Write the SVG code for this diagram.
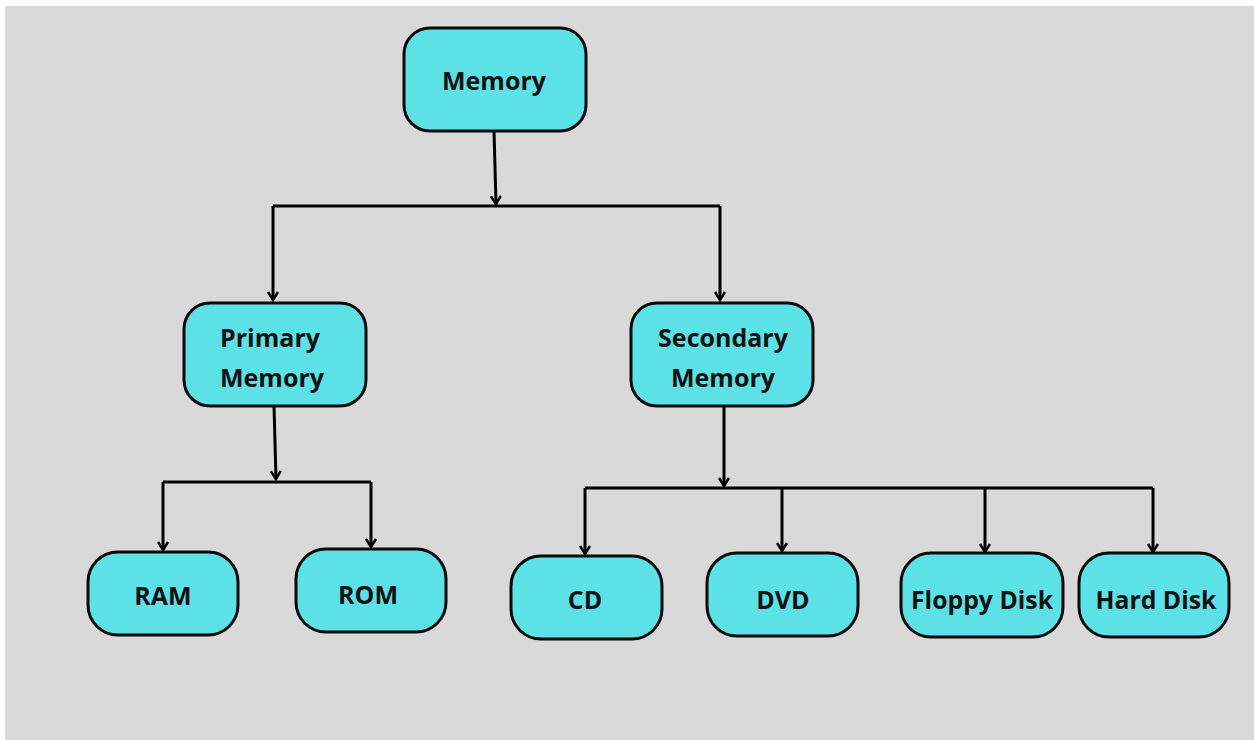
<svg xmlns="http://www.w3.org/2000/svg" width="1254" height="740" viewBox="0 0 1254 740">
<defs>
<marker id="arr" markerWidth="12" markerHeight="12" viewBox="0 0 12 12" refX="10" refY="6" orient="auto" markerUnits="userSpaceOnUse">
<path d="M2,1 L10,6 L2,11" fill="none" stroke="#000" stroke-width="2.5" stroke-linejoin="miter"/>
</marker>
</defs>
<style>
.box{fill:#5ce1e6;stroke:#0a0a0a;stroke-width:3}
.t{font-family:"Open Sans","Noto Sans",sans-serif;font-weight:bold;font-size:25px;fill:#111;text-anchor:middle}
.c{fill:none;stroke:#000;stroke-width:3}
</style>
<rect x="0" y="0" width="1254" height="740" fill="#ffffff"/>
<rect x="5" y="6" width="1249" height="734" fill="#d9d9d9"/>
<g id="connectors">
<path class="c" d="M494,131 L496,204" marker-end="url(#arr)"/>
<path class="c" d="M273,206 L720,206"/>
<path class="c" d="M273,206 L273,300" marker-end="url(#arr)"/>
<path class="c" d="M720,206 L720,300" marker-end="url(#arr)"/>
<path class="c" d="M274,406 L276,479" marker-end="url(#arr)"/>
<path class="c" d="M163,482 L371,482"/>
<path class="c" d="M163,482 L163,550" marker-end="url(#arr)"/>
<path class="c" d="M371,482 L371,547" marker-end="url(#arr)"/>
<path class="c" d="M724,406 L724,486" marker-end="url(#arr)"/>
<path class="c" d="M585,488 L1153,488"/>
<path class="c" d="M585,488 L585,554" marker-end="url(#arr)"/>
<path class="c" d="M782,488 L782,551" marker-end="url(#arr)"/>
<path class="c" d="M985,488 L985,552" marker-end="url(#arr)"/>
<path class="c" d="M1153,488 L1153,552" marker-end="url(#arr)"/>
</g>
<g id="memory">
<rect class="box" x="404" y="28" width="182" height="103" rx="26"/>
<text class="t" x="494" y="90">Memory</text>
</g>
<g id="primary">
<rect class="box" x="184" y="303" width="182" height="103" rx="26"/>
<text class="t" x="270" y="347">Primary</text>
<text class="t" x="272" y="387">Memory</text>
</g>
<g id="secondary">
<rect class="box" x="631" y="303" width="182" height="103" rx="26"/>
<text class="t" x="723" y="347">Secondary</text>
<text class="t" x="723" y="387">Memory</text>
</g>
<g id="ram">
<rect class="box" x="88" y="552" width="150" height="83" rx="30"/>
<text class="t" x="163" y="605">RAM</text>
</g>
<g id="rom">
<rect class="box" x="296" y="549" width="150" height="83" rx="30"/>
<text class="t" x="368" y="604">ROM</text>
</g>
<g id="cd">
<rect class="box" x="511" y="556" width="151" height="83" rx="30"/>
<text class="t" x="585" y="609">CD</text>
</g>
<g id="dvd">
<rect class="box" x="707" y="553" width="151" height="83" rx="30"/>
<text class="t" x="783" y="609">DVD</text>
</g>
<g id="floppy">
<rect class="box" x="901" y="553" width="162" height="84" rx="30"/>
<text class="t" x="982" y="609" textLength="142" lengthAdjust="spacingAndGlyphs">Floppy Disk</text>
</g>
<g id="harddisk">
<rect class="box" x="1079" y="553" width="150" height="84" rx="30"/>
<text class="t" x="1156" y="609" textLength="121" lengthAdjust="spacingAndGlyphs">Hard Disk</text>
</g>
</svg>
